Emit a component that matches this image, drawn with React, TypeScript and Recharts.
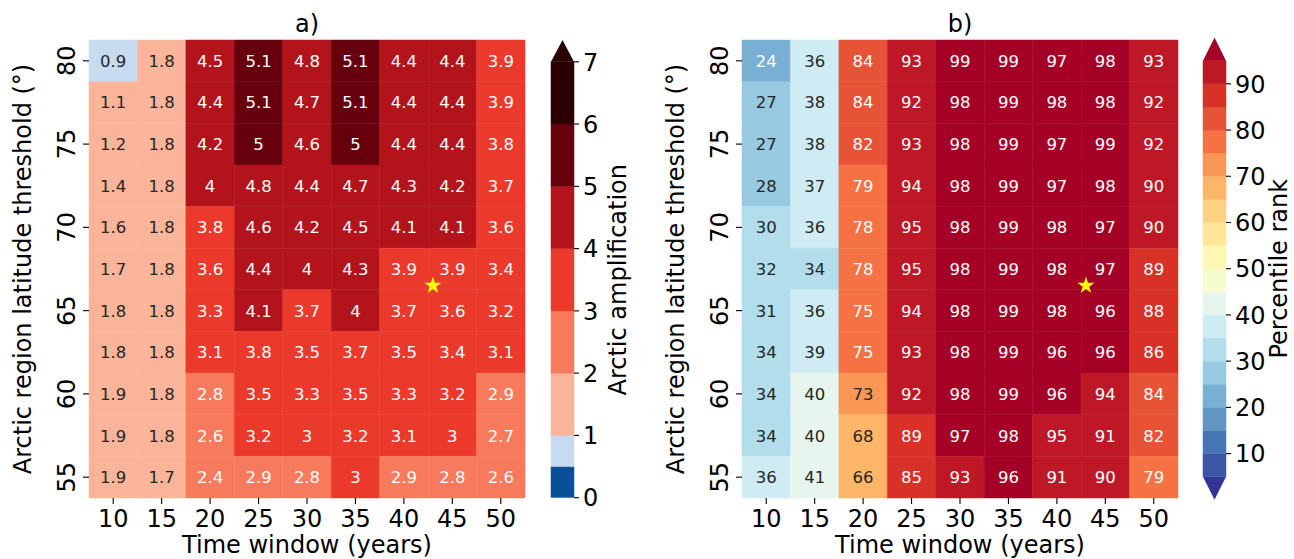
import React from 'react';
import { ScatterChart, Scatter, XAxis, YAxis, ReferenceArea, BarChart, Bar } from 'recharts';

// ---------------- data ----------------
const timeWindows = [10, 15, 20, 25, 30, 35, 40, 45, 50];
const latitudes = [80, 77.5, 75, 72.5, 70, 67.5, 65, 62.5, 60, 57.5, 55];
const latTicks = [55, 60, 65, 70, 75, 80];

// a) Arctic amplification (rows follow latitudes, columns follow timeWindows)
const amplification = [
  [0.9, 1.8, 4.5, 5.1, 4.8, 5.1, 4.4, 4.4, 3.9],
  [1.1, 1.8, 4.4, 5.1, 4.7, 5.1, 4.4, 4.4, 3.9],
  [1.2, 1.8, 4.2, 5.0, 4.6, 5.0, 4.4, 4.4, 3.8],
  [1.4, 1.8, 4.0, 4.8, 4.4, 4.7, 4.3, 4.2, 3.7],
  [1.6, 1.8, 3.8, 4.6, 4.2, 4.5, 4.1, 4.1, 3.6],
  [1.7, 1.8, 3.6, 4.4, 4.0, 4.3, 3.9, 3.9, 3.4],
  [1.8, 1.8, 3.3, 4.1, 3.7, 4.0, 3.7, 3.6, 3.2],
  [1.8, 1.8, 3.1, 3.8, 3.5, 3.7, 3.5, 3.4, 3.1],
  [1.9, 1.8, 2.8, 3.5, 3.3, 3.5, 3.3, 3.2, 2.9],
  [1.9, 1.8, 2.6, 3.2, 3.0, 3.2, 3.1, 3.0, 2.7],
  [1.9, 1.7, 2.4, 2.9, 2.8, 3.0, 2.9, 2.8, 2.6],
];

// b) Percentile rank
const percentileRank = [
  [24, 36, 84, 93, 99, 99, 97, 98, 93],
  [27, 38, 84, 92, 98, 99, 98, 98, 92],
  [27, 38, 82, 93, 98, 99, 97, 99, 92],
  [28, 37, 79, 94, 98, 99, 97, 98, 90],
  [30, 36, 78, 94.6, 98, 99, 98, 97, 90],
  [32, 34, 78, 94.6, 98, 99, 98, 97, 89],
  [31, 36, 75, 94, 98, 99, 98, 96, 88],
  [34, 39, 75, 93, 98, 99, 96, 96, 86],
  [34, 40, 73, 92, 98, 99, 96, 94, 84],
  [34, 40, 68, 89, 97, 98, 94.6, 91, 82],
  [36, 41, 66, 85, 93, 96, 91, 90, 79],
];

const markerPoint = [{ x: 43, y: 66.5 }];

const ampBounds = [0, 0.5, 1, 2, 3, 4, 5, 6, 7];
const ampTicks = [0, 1, 2, 3, 4, 5, 6, 7];
const ampColors = ['#0b4f99', '#c6dbef', '#fab49a', '#f87a5c', '#eb3a2c', '#b3141c', '#67000d', '#2b0003'];
const ampOverColor = '#2b0003';

const pctBounds = [5, 10, 15, 20, 25, 30, 35, 40, 45, 50, 55, 60, 65, 70, 75, 80, 85, 90, 95];
const pctTicks = [10, 20, 30, 40, 50, 60, 70, 80, 90];
const rdYlBuReversed = ['#313695', '#4575b4', '#74add1', '#abd9e9', '#e0f3f8', '#ffffbf', '#fee090', '#fdae61', '#f46d43', '#d73027', '#a50026'];

// ---------------- style ----------------
const FONT = '"DejaVu Sans", Verdana, sans-serif';
const TICK_FS = 24;
const LABEL_FS = 24;
const CELL_FS = 16.5;
const TITLE_FS = 24;
const CAP = 0.729;
const AMP_EXT = 0.35;
const PCT_EXT = 5;

// ---------------- colour helpers ----------------
function hexToRgb(hex: string): number[] {
  const n = parseInt(hex.slice(1), 16);
  return [(n >> 16) & 255, (n >> 8) & 255, n & 255];
}
function rgbToHex(c: number[]): string {
  return '#' + c.map((v) => Math.round(v).toString(16).padStart(2, '0')).join('');
}
function rdYlBuR(t: number): string {
  const lt = Math.min(255, Math.floor(t * 256)) / 255;
  const n = rdYlBuReversed.length - 1;
  const p = lt * n;
  const i = Math.min(n - 1, Math.floor(p));
  const f = p - i;
  const a = hexToRgb(rdYlBuReversed[i]);
  const b = hexToRgb(rdYlBuReversed[i + 1]);
  return rgbToHex([0, 1, 2].map((k) => a[k] + (b[k] - a[k]) * f));
}
const nPctRegions = pctBounds.length + 1; // bins + under + over
const pctColors = Array.from({ length: nPctRegions }, (_, i) => rdYlBuR(i / (nPctRegions - 1)));

function ampColor(v: number): string {
  for (let i = 0; i < ampBounds.length - 1; i++) if (v < ampBounds[i + 1]) return ampColors[i];
  return ampOverColor;
}
function pctColor(v: number): string {
  if (v < pctBounds[0]) return pctColors[0];
  for (let i = 0; i < pctBounds.length - 1; i++) if (v < pctBounds[i + 1]) return pctColors[i + 1];
  return pctColors[nPctRegions - 1];
}
function luminance(hex: string): number {
  const c = hexToRgb(hex).map((v) => {
    const s = v / 255;
    return s <= 0.03928 ? s / 12.92 : Math.pow((s + 0.055) / 1.055, 2.4);
  });
  return 0.2126 * c[0] + 0.7152 * c[1] + 0.0722 * c[2];
}
const textColorOn = (hex: string) => (luminance(hex) > 0.408 ? '#262626' : '#ffffff');

const fmtAmp = (v: number) => String(Number(v.toPrecision(2)));
const fmtPct = (v: number) => String(Math.round(v));

// ---------------- grid geometry derived from data ----------------
const stepX = timeWindows[1] - timeWindows[0];
const stepY = latitudes[0] - latitudes[1];
const xDomain: [number, number] = [Math.min(...timeWindows) - stepX / 2, Math.max(...timeWindows) + stepX / 2];
const yDomain: [number, number] = [Math.min(...latitudes) - stepY / 2, Math.max(...latitudes) + stepY / 2];

// ---------------- ticks / labels ----------------
const XTick = (p: any) => (
  <text x={p.x} y={p.y + TICK_FS * CAP} textAnchor="middle" fontSize={TICK_FS} fontFamily={FONT} fill="#000">
    {p.payload.value}
  </text>
);
const YTickRot = (p: any) => (
  <text transform={`translate(${p.x},${p.y}) rotate(-90)`} textAnchor="middle" fontSize={TICK_FS} fontFamily={FONT} fill="#000">
    {p.payload.value}
  </text>
);
const CbTick = (p: any) => (
  <text x={p.x} y={p.y + (TICK_FS * CAP) / 2} textAnchor="start" fontSize={TICK_FS} fontFamily={FONT} fill="#000">
    {p.payload.value}
  </text>
);

const StarShape = (p: any) => {
  const R = 9;
  const r = R * 0.382;
  const pts: string[] = [];
  for (let i = 0; i < 10; i++) {
    const rad = i % 2 === 0 ? R : r;
    const a = -Math.PI / 2 + (i * Math.PI) / 5;
    pts.push(`${p.cx + rad * Math.cos(a)},${p.cy + rad * Math.sin(a)}`);
  }
  return <polygon points={pts.join(' ')} fill="#ffff00" stroke="none" />;
};

type HeatProps = {
  values: number[][];
  colorOf: (v: number) => string;
  fmt: (v: number) => string;
  left: number;
};

function Heatmap({ values, colorOf, fmt, left }: HeatProps) {
  const cells: { x: number; y: number; v: number }[] = [];
  latitudes.forEach((lat, r) => timeWindows.forEach((tw, c) => cells.push({ x: tw, y: lat, v: values[r][c] })));
  const CellLabel = (p: any) => {
    const col = colorOf(p.payload.v);
    return (
      <text x={p.cx} y={p.cy + (CELL_FS * CAP) / 2} textAnchor="middle" fontSize={CELL_FS} fontFamily={FONT} fill={textColorOn(col)}>
        {fmt(p.payload.v)}
      </text>
    );
  };
  return (
    <div style={{ position: 'absolute', left, top: 0 }}>
      <ScatterChart width={540} height={559} margin={{ top: 40, right: 15, bottom: 0, left: 0 }}>
        <XAxis
          type="number"
          dataKey="x"
          domain={xDomain}
          ticks={timeWindows}
          interval={0}
          allowDataOverflow
          height={61}
          stroke="#000"
          axisLine={false}
          tickLine={{ stroke: '#000', strokeWidth: 1.1 }}
          tickSize={6}
          tickMargin={6}
          tick={XTick}
          label={{
            content: (lp: any) => {
              const vb = lp.viewBox || { x: 89, y: 498, width: 436, height: 61 };
              return (
                <text x={vb.x + vb.width / 2} y={vb.y + 55} textAnchor="middle" fontSize={LABEL_FS} fontFamily={FONT} fill="#000">
                  Time window (years)
                </text>
              );
            },
          }}
        />
        <YAxis
          type="number"
          dataKey="y"
          domain={yDomain}
          ticks={latTicks}
          interval={0}
          allowDataOverflow
          width={89}
          stroke="#000"
          axisLine={false}
          tickLine={{ stroke: '#000', strokeWidth: 1.1 }}
          tickSize={6}
          tickMargin={8.5}
          tick={YTickRot}
          label={{
            content: (lp: any) => {
              const vb = lp.viewBox || { x: 0, y: 40, width: 89, height: 458 };
              return (
                <text
                  transform={`translate(${vb.x + 31},${vb.y + vb.height / 2}) rotate(-90)`}
                  textAnchor="middle"
                  fontSize={LABEL_FS}
                  fontFamily={FONT}
                  fill="#000"
                >
                  Arctic region latitude threshold (°)
                </text>
              );
            },
          }}
        />
        {cells.map((c) => (
          <ReferenceArea
            key={`${c.x}-${c.y}`}
            x1={c.x - stepX / 2}
            x2={c.x + stepX / 2}
            y1={c.y - stepY / 2}
            y2={c.y + stepY / 2}
            fill={colorOf(c.v)}
            fillOpacity={1}
            stroke={colorOf(c.v)}
            strokeWidth={0.5}
            ifOverflow="visible"
          />
        ))}
        <Scatter data={cells} isAnimationActive={false} shape={CellLabel} />
        <Scatter data={markerPoint} isAnimationActive={false} shape={StarShape} />
      </ScatterChart>
    </div>
  );
}

type Segment = { size: number; color: string; kind?: 'over' | 'under' };

const UpTri = (p: any) => (
  <polygon points={`${p.x},${p.y + p.height} ${p.x + p.width},${p.y + p.height} ${p.x + p.width / 2},${p.y}`} fill={p.fill} />
);
const DownTri = (p: any) => (
  <polygon points={`${p.x},${p.y} ${p.x + p.width},${p.y} ${p.x + p.width / 2},${p.y + p.height}`} fill={p.fill} />
);

type CbProps = {
  segments: Segment[];
  domain: [number, number];
  ticks: number[];
  rectRange: [number, number];
  left: number;
  width: number;
  yAxisWidth: number;
  top: number;
  bottom: number;
  label: string;
  labelOffset: number;
};

function Colorbar({ segments, domain, ticks, rectRange, left, width, yAxisWidth, top, bottom, label, labelOffset }: CbProps) {
  const row: Record<string, any> = { name: 'cb' };
  segments.forEach((s, i) => (row['s' + i] = s.size));
  const mid = (rectRange[0] + rectRange[1]) / 2;
  const frac = (domain[1] - mid) / (domain[1] - domain[0]);
  return (
    <div style={{ position: 'absolute', left, top: 0 }}>
      <BarChart width={width} height={559} data={[row]} margin={{ top, right: 0, bottom, left: 11 }} barCategoryGap={0} barGap={0}>
        <XAxis dataKey="name" hide />
        <YAxis
          orientation="right"
          type="number"
          domain={domain}
          allowDataOverflow
          ticks={ticks}
          interval={0}
          width={yAxisWidth}
          stroke="#000"
          axisLine={false}
          tickLine={{ stroke: '#000', strokeWidth: 1.1 }}
          tickSize={5}
          tickMargin={4}
          tick={CbTick}
          label={{
            content: (lp: any) => {
              const vb = lp.viewBox;
              return (
                <text
                  transform={`translate(${vb.x + labelOffset},${vb.y + vb.height * frac}) rotate(-90)`}
                  textAnchor="middle"
                  fontSize={LABEL_FS}
                  fontFamily={FONT}
                  fill="#000"
                >
                  {label}
                </text>
              );
            },
          }}
        />
        {segments.map((s, i) => (
          <Bar
            key={i}
            dataKey={'s' + i}
            stackId="cb"
            fill={s.color}
            stroke={s.kind ? 'none' : s.color}
            strokeWidth={0.5}
            isAnimationActive={false}
            shape={s.kind === 'over' ? UpTri : s.kind === 'under' ? DownTri : undefined}
          />
        ))}
      </BarChart>
    </div>
  );
}

const ampSegments: Segment[] = [
  ...ampBounds.slice(0, -1).map((b, i) => ({ size: ampBounds[i + 1] - b, color: ampColors[i] })),
  { size: AMP_EXT, color: ampOverColor, kind: 'over' as const },
];
const pctSegments: Segment[] = [
  { size: PCT_EXT, color: pctColors[0], kind: 'under' as const },
  ...pctBounds.slice(0, -1).map((b, i) => ({ size: pctBounds[i + 1] - b, color: pctColors[i + 1] })),
  { size: PCT_EXT, color: pctColors[nPctRegions - 1], kind: 'over' as const },
];

const Title = ({ text, cx }: { text: string; cx: number }) => (
  <svg style={{ position: 'absolute', left: cx - 50, top: 0 }} width={100} height={40}>
    <text x={50} y={32} textAnchor="middle" fontSize={TITLE_FS} fontFamily={FONT} fill="#000">
      {text}
    </text>
  </svg>
);

export default function App() {
  return (
    <div style={{ position: 'absolute', left: 0, top: 0, width: 1294, height: 559, background: '#fff', overflow: 'hidden' }}>
      <Heatmap values={amplification} colorOf={ampColor} fmt={fmtAmp} left={0} />
      <Colorbar
        segments={ampSegments}
        domain={[ampBounds[0], ampBounds[ampBounds.length - 1] + AMP_EXT]}
        ticks={ampTicks}
        rectRange={[ampBounds[0], ampBounds[ampBounds.length - 1]]}
        left={540}
        width={120}
        yAxisWidth={86}
        top={40}
        bottom={61.3}
        label="Arctic amplification"
        labelOffset={52}
      />
      <Heatmap values={percentileRank} colorOf={pctColor} fmt={fmtPct} left={652.5} />
      <Colorbar
        segments={pctSegments}
        domain={[pctBounds[0] - PCT_EXT, pctBounds[pctBounds.length - 1] + PCT_EXT]}
        ticks={pctTicks}
        rectRange={[pctBounds[0], pctBounds[pctBounds.length - 1]]}
        left={1192}
        width={102}
        yAxisWidth={68}
        top={37.6}
        bottom={59.2}
        label="Percentile rank"
        labelOffset={61}
      />
      <Title text="a)" cx={307} />
      <Title text="b)" cx={959.5} />
    </div>
  );
}
